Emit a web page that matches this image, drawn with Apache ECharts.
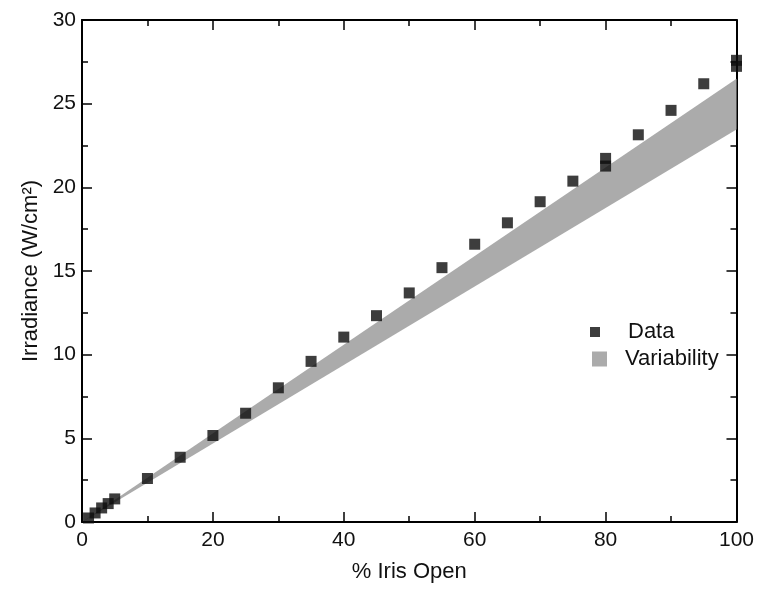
<!DOCTYPE html>
<html>
<head>
<meta charset="utf-8">
<script src="https://cdn.jsdelivr.net/npm/echarts@6/dist/echarts.min.js"></script>
<style>
html,body{margin:0;padding:0;background:#fff;}
#chart{width:757px;height:592px;}
</style>
</head>
<body>
<div id="chart"></div>
<script>
// ---- data ----
const irisOpen = [1, 2, 3, 4, 5, 10, 15, 20, 25, 30, 35, 40, 45, 50, 55, 60, 65, 70, 75, 80, 80, 85, 90, 95, 100, 100];
const irradiance = [0.24, 0.54, 0.84, 1.1, 1.38, 2.6, 3.87, 5.17, 6.5, 8.02, 9.6, 11.05, 12.33, 13.69, 15.2, 16.6, 17.88, 19.14, 20.37, 21.27, 21.73, 23.14, 24.6, 26.19, 27.23, 27.59];
const bandX = [0, 100];
const bandLow = [0, 23.46];
const bandHigh = [0, 26.49];
const xTicks = [0, 20, 40, 60, 80, 100];
const yTicks = [0, 5, 10, 15, 20, 25, 30];

const FONT = '"Liberation Sans", Arial, sans-serif';
const TXT = '#111';
const BAND = '#ababab';

const scatterData = irisOpen.map((x, i) => [x, irradiance[i]]);
// one item per band vertex: [x, low, high]
const bandData = bandX.map((x, i) => [x, bandLow[i], bandHigh[i]]);

function axisBase(extra) {
  return Object.assign({
    type: 'value',
    axisLine: { show: true, onZero: false, lineStyle: { color: '#000', width: 2 } },
    axisTick: { show: true, inside: true, length: 10, lineStyle: { color: '#000', width: 1.5 } },
    minorTick: { show: true, splitNumber: 2, length: 6, lineStyle: { color: '#000', width: 1.5 } },
    splitLine: { show: false },
    minorSplitLine: { show: false }
  }, extra);
}

const chart = echarts.init(document.getElementById('chart'), null, { renderer: 'canvas' });
chart.setOption({
  backgroundColor: '#fff',
  animation: false,
  grid: { left: 82, right: 17, top: 20, bottom: 70, containLabel: false },
  xAxis: [
    axisBase({
      min: xTicks[0], max: xTicks[xTicks.length - 1], interval: xTicks[1] - xTicks[0],
      position: 'bottom',
      name: '% Iris Open', nameLocation: 'middle', nameGap: 39,
      nameTextStyle: { fontFamily: FONT, fontSize: 22, color: TXT },
      axisLabel: { show: true, margin: 8, fontFamily: FONT, fontSize: 21, color: TXT }
    }),
    axisBase({
      min: xTicks[0], max: xTicks[xTicks.length - 1], interval: xTicks[1] - xTicks[0],
      position: 'top',
      axisLabel: { show: false }
    })
  ],
  yAxis: [
    axisBase({
      min: yTicks[0], max: yTicks[yTicks.length - 1], interval: yTicks[1] - yTicks[0],
      position: 'left',
      name: 'Irradiance (W/cm²)', nameLocation: 'middle', nameGap: 40,
      nameTextStyle: { fontFamily: FONT, fontSize: 22, color: TXT },
      axisLabel: { show: true, margin: 6, fontFamily: FONT, fontSize: 21, color: TXT }
    }),
    axisBase({
      min: yTicks[0], max: yTicks[yTicks.length - 1], interval: yTicks[1] - yTicks[0],
      position: 'right',
      axisLabel: { show: false }
    })
  ],
  legend: [
    {
      data: [{ name: 'Data', icon: 'rect' }],
      left: 585, top: 316,
      itemWidth: 10, itemHeight: 10,
      textStyle: { fontFamily: FONT, fontSize: 22, color: TXT, padding: [0, 0, 0, 23] },
      selectedMode: false
    },
    {
      data: [{ name: 'Variability', icon: 'rect', itemStyle: { color: BAND } }],
      left: 587, top: 343,
      itemWidth: 15, itemHeight: 15,
      textStyle: { fontFamily: FONT, fontSize: 22, color: TXT, padding: [0, 0, 0, 13] },
      selectedMode: false
    }
  ],
  series: [
    {
      name: 'Variability', type: 'custom', data: bandData,
      encode: { x: 0, y: [1, 2] },
      itemStyle: { color: BAND },
      silent: true, z: 1,
      renderItem: function (params, api) {
        if (params.dataIndex !== 0) return null;
        const upper = bandData.map(d => api.coord([d[0], d[2]]));
        const lower = bandData.slice().reverse().map(d => api.coord([d[0], d[1]]));
        return {
          type: 'polygon',
          shape: { points: upper.concat(lower) },
          style: { fill: BAND, stroke: null }
        };
      }
    },
    {
      name: 'Data', type: 'scatter', data: scatterData,
      symbol: 'rect', symbolSize: 11,
      itemStyle: { color: '#0d0d0d' }, z: 5
    }
  ]
});
</script>
</body>
</html>
